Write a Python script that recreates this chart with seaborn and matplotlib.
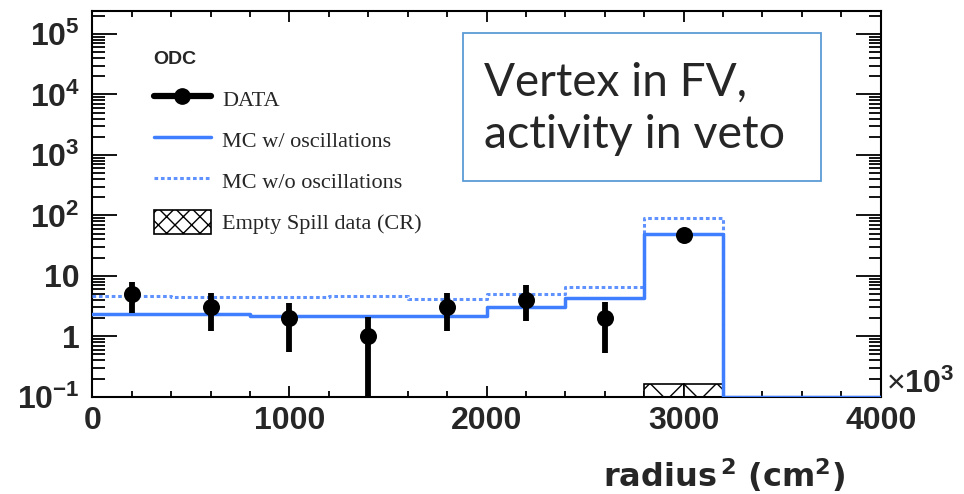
import numpy as np
import pandas as pd
import matplotlib
matplotlib.use("Agg")
import matplotlib.pyplot as plt
import seaborn as sns
from matplotlib.lines import Line2D
from matplotlib.patches import Patch, Rectangle
from matplotlib.ticker import FixedLocator, FuncFormatter, LogLocator, NullFormatter, MultipleLocator

# ---------------- data ----------------
bin_edges = [0, 400, 800, 1200, 1600, 2000, 2400, 2800, 3200, 3600, 4000]
mc_osc = [2.3, 2.3, 2.15, 2.15, 2.15, 3.05, 4.3, 50, 0, 0]
mc_noosc = [4.7, 4.5, 4.4, 4.6, 4.1, 5.0, 6.6, 89, 0, 0]
data_x = [200, 600, 1000, 1400, 1800, 2200, 2600, 3000]
data_y = [5, 3, 2, 1, 3, 4, 2, 47]
data_err_lo = [2.6, 1.8, 1.45, 1.0, 1.8, 2.2, 1.48, 7]
data_err_hi = [2.8, 2.2, 1.5, 1.1, 2.2, 3.0, 1.7, 7]
cr_edges = [2800, 3000, 3200]
cr_vals = [0.16, 0.16]
ytick_vals = [0.1, 1, 10, 100, 1000, 10000, 100000]
xtick_vals = [0, 1000, 2000, 3000, 4000]

YMIN, YMAX = 0.1, 2.43e5

# ---------------- style ----------------
sns.set_theme(style="ticks")
plt.rcParams['font.family'] = ['Liberation Sans', 'DejaVu Sans']
plt.rcParams['mathtext.fontset'] = 'custom'
plt.rcParams['mathtext.rm'] = 'Liberation Sans'
plt.rcParams['mathtext.bf'] = 'Liberation Sans:bold'
plt.rcParams['mathtext.it'] = 'Liberation Sans:italic'
plt.rcParams['hatch.linewidth'] = 1.0

fig = plt.figure(figsize=(9.64, 4.94), dpi=100)
ax = fig.add_axes([92.3 / 964, 1 - 396.7 / 494, (880.7 - 92.3) / 964, (396.7 - 10.7) / 494])
ax.set_yscale('log')

blue = '#3f7fff'
blue_light = '#5f92ff'

def step_df(vals):
    v = list(vals) + [vals[-1]]
    v = [max(a, YMIN) for a in v]
    return pd.DataFrame({'x': bin_edges, 'y': v})

# MC without oscillations (dotted)
sns.lineplot(data=step_df(mc_noosc), x='x', y='y', ax=ax, drawstyle='steps-post',
             color=blue_light, lw=2.2, linestyle=(0, (1.2, 0.9)), zorder=3)
# MC with oscillations (solid)
sns.lineplot(data=step_df(mc_osc), x='x', y='y', ax=ax, drawstyle='steps-post',
             color=blue, lw=2.5, zorder=4)

# Empty spill CR hatched bars
for i in range(len(cr_vals)):
    ax.bar(cr_edges[i], cr_vals[i] - YMIN, bottom=YMIN, width=cr_edges[i + 1] - cr_edges[i],
           align='edge', facecolor='white', edgecolor='black', hatch='x', lw=1.2, zorder=2)

# data points
ax.errorbar(data_x, data_y, yerr=[data_err_lo, data_err_hi], fmt='none',
            ecolor='black', elinewidth=4.2, capsize=0, zorder=5)
sns.scatterplot(x=data_x, y=data_y, ax=ax, color='black', s=150, edgecolor='black',
                linewidth=0, zorder=6)

ax.set_xlim(0, 4000)
ax.set_ylim(YMIN, YMAX)

# ticks
ax.xaxis.set_major_locator(FixedLocator(xtick_vals))
ax.xaxis.set_minor_locator(MultipleLocator(200))
ax.yaxis.set_major_locator(FixedLocator(ytick_vals))
ax.yaxis.set_minor_locator(LogLocator(base=10, subs=np.arange(2, 10), numticks=20))
ax.yaxis.set_minor_formatter(NullFormatter())

def yfmt(v, pos):
    e = int(round(np.log10(v)))
    if e == 0:
        return '1'
    if e == 1:
        return '10'
    return r'$\mathbf{10^{%d}}$' % e

ax.yaxis.set_major_formatter(FuncFormatter(yfmt))
ax.xaxis.set_major_formatter(FuncFormatter(lambda v, p: '%d' % v))

ax.tick_params(axis='both', which='both', direction='in', top=True, right=True,
               width=1.3, color='black')
ax.tick_params(axis='x', which='major', length=8, pad=7, labelsize=23)
ax.tick_params(axis='x', which='minor', length=4.5)
ax.tick_params(axis='y', which='major', length=18, pad=9, labelsize=23)
ax.tick_params(axis='y', which='minor', length=9)
for lab in ax.get_xticklabels() + ax.get_yticklabels():
    lab.set_fontweight('bold')

for s in ax.spines.values():
    s.set_linewidth(1.5)
    s.set_color('black')
    s.set_visible(True)

ax.set_xlabel('')
ax.set_ylabel('')

# axis title and multiplier
fig.text(845 / 964, 1 - 487 / 494, r'radius$^{\,\mathbf{2}}$ (cm$^{\mathbf{2}}$)',
         ha='right', va='baseline', fontsize=23, fontweight='bold',
         family=['DejaVu Sans'], math_fontfamily='dejavusans')
fig.text(886 / 964, 1 - 393 / 494, r'$\times$' + r'$\mathbf{10^{3}}$',
         ha='left', va='baseline', fontsize=23, fontweight='bold')

# legend header
fig.text(153 / 964, 1 - 59 / 494, 'ODC', ha='left', va='center',
         fontsize=14, fontweight='bold', family=['Liberation Sans'])

# legend
handles = [
    Line2D([0], [0], color='black', lw=4.5, marker='o', markersize=11),
    Line2D([0], [0], color=blue, lw=2.5),
    Line2D([0], [0], color=blue_light, lw=2.2, linestyle=(0, (1.2, 0.9))),
    Patch(facecolor='white', edgecolor='black', hatch='xx', lw=1.2),
]
labels = ['DATA', 'MC w/ oscillations', 'MC w/o oscillations', 'Empty Spill data (CR)']
leg = ax.legend(handles, labels, loc='upper left', bbox_to_anchor=(154 / 964, 1 - 86 / 494),
                bbox_transform=fig.transFigure, frameon=False,
                prop={'family': 'Liberation Serif', 'size': 16},
                alignment='left', handlelength=2.56, handleheight=1.3, handletextpad=0.5,
                labelspacing=0.75, borderpad=0, borderaxespad=0)

# annotation box
fig.add_artist(Rectangle((463 / 964, 1 - 181 / 494), (821 - 463) / 964, (181 - 33) / 494,
                         transform=fig.transFigure, facecolor='white', edgecolor='#5b9bd5',
                         lw=1.3, zorder=10))
fig.text(484 / 964, 1 - 96 / 494, 'Vertex in FV,', ha='left', va='baseline',
         fontsize=33, family=['Lato', 'DejaVu Sans'], zorder=11)
fig.text(484 / 964, 1 - 148 / 494, 'activity in veto', ha='left', va='baseline',
         fontsize=33.5, family=['Lato', 'DejaVu Sans'], zorder=11)

fig.savefig('out.png', dpi=100)
